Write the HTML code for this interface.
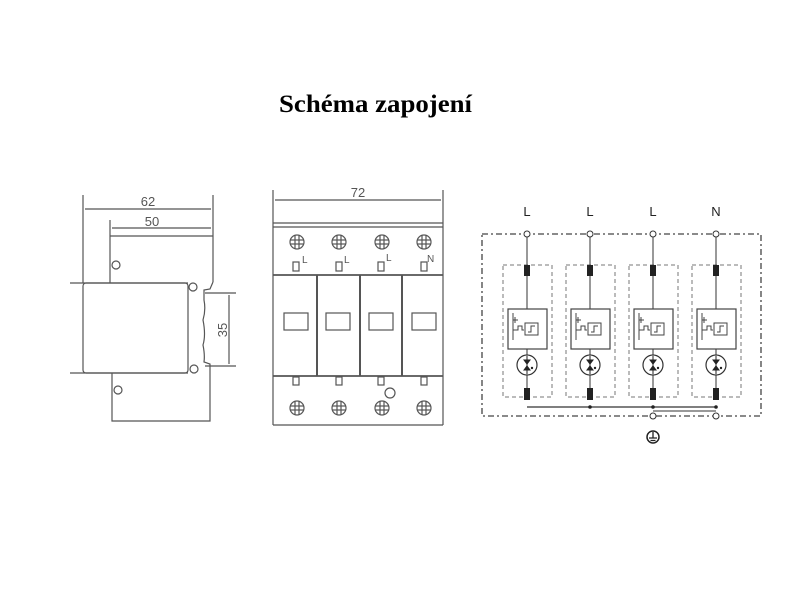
<!DOCTYPE html>
<html><head><meta charset="utf-8"><style>
html,body{margin:0;padding:0;background:#fff;}
svg{display:block;}
</style></head><body>
<svg width="800" height="600" viewBox="0 0 800 600" xmlns="http://www.w3.org/2000/svg">
<defs>
  <g id="sc"><circle r="7"/><line x1="-7" y1="-2" x2="7" y2="-2"/><line x1="-7" y1="2" x2="7" y2="2"/><line x1="-2" y1="-7" x2="-2" y2="7"/><line x1="2" y1="-7" x2="2" y2="7"/></g>
</defs>
<rect width="800" height="600" fill="#fff"/>
<text x="279" y="112" font-family="Liberation Serif, serif" font-weight="bold" font-size="25" textLength="193" lengthAdjust="spacingAndGlyphs" fill="#000">Schéma zapojení</text>

<!-- Side view -->
<g stroke="#555" stroke-width="1.2" fill="none">
  <line x1="83" y1="195" x2="83" y2="283"/>
  <line x1="213" y1="195" x2="213" y2="282"/>
  <line x1="85" y1="209" x2="211" y2="209"/>
  <line x1="110" y1="220" x2="110" y2="283"/>
  <line x1="112" y1="228" x2="211" y2="228"/>
  <line x1="110" y1="236" x2="213" y2="236"/>
  <line x1="70" y1="283" x2="188" y2="283"/>
  <rect x="83" y="283" width="105" height="90" rx="3"/>
  <line x1="70" y1="373" x2="188" y2="373"/>
  <path d="M213 282 L210 289 L204 290 L204 300 Q206 310 203 320 Q206 335 203 345 Q205 355 204 362 L210 364 L210 421 L112 421 L112 373"/>
  <line x1="205" y1="293" x2="236" y2="293"/>
  <line x1="205" y1="366" x2="236" y2="366"/>
  <line x1="229" y1="295" x2="229" y2="364"/>
  <circle cx="116" cy="265" r="4"/>
  <circle cx="193" cy="287" r="4"/>
  <circle cx="194" cy="369" r="4"/>
  <circle cx="118" cy="390" r="4"/>
</g>
<g fill="#555" font-family="Liberation Sans, sans-serif" font-size="13">
  <text x="148" y="206" text-anchor="middle">62</text>
  <text x="152" y="226" text-anchor="middle">50</text>
  <text x="227" y="330" text-anchor="middle" transform="rotate(-90 227 330)">35</text>
</g>

<!-- Front view -->
<g stroke="#555" stroke-width="1.2" fill="none">
  <line x1="273" y1="190" x2="273" y2="425"/>
  <line x1="443" y1="190" x2="443" y2="425"/>
  <line x1="275" y1="200" x2="441" y2="200"/>
  <line x1="273" y1="223" x2="443" y2="223"/>
  <line x1="273" y1="227" x2="443" y2="227"/>
  <line x1="273" y1="425" x2="443" y2="425"/>
  <line x1="273" y1="275" x2="443" y2="275" stroke-width="1.8"/>
  <line x1="273" y1="376" x2="443" y2="376" stroke-width="1.8"/>
  <line x1="317" y1="275" x2="317" y2="376" stroke-width="2"/>
  <line x1="360" y1="275" x2="360" y2="376" stroke-width="2"/>
  <line x1="402" y1="275" x2="402" y2="376" stroke-width="2"/>
  <rect x="284" y="313" width="24" height="17"/>
  <rect x="326" y="313" width="24" height="17"/>
  <rect x="369" y="313" width="24" height="17"/>
  <rect x="412" y="313" width="24" height="17"/>
  <use href="#sc" x="297" y="242"/><use href="#sc" x="339" y="242"/><use href="#sc" x="382" y="242"/><use href="#sc" x="424" y="242"/>
  <use href="#sc" x="297" y="408"/><use href="#sc" x="339" y="408"/><use href="#sc" x="382" y="408"/><use href="#sc" x="424" y="408"/>
  <rect x="293" y="262" width="6" height="9"/><rect x="336" y="262" width="6" height="9"/><rect x="378" y="262" width="6" height="9"/><rect x="421" y="262" width="6" height="9"/>
  <rect x="293" y="377" width="6" height="8"/><rect x="336" y="377" width="6" height="8"/><rect x="378" y="377" width="6" height="8"/><rect x="421" y="377" width="6" height="8"/>
  <circle cx="390" cy="393" r="5"/>
</g>
<g fill="#555" font-family="Liberation Sans, sans-serif" font-size="10">
  <text x="302" y="263">L</text><text x="344" y="263">L</text><text x="386" y="261">L</text><text x="427" y="262">N</text>
</g>
<text x="358" y="197" fill="#555" font-family="Liberation Sans, sans-serif" font-size="13" text-anchor="middle">72</text>

<!-- Schematic -->
<g fill="#222" font-family="Liberation Sans, sans-serif" font-size="13" text-anchor="middle">
  <text x="527" y="216">L</text><text x="590" y="216">L</text><text x="653" y="216">L</text><text x="716" y="216">N</text>
</g>
<rect x="482" y="234" width="279" height="182" fill="none" stroke="#444" stroke-width="1.3" stroke-dasharray="6,3,2,3"/>
<g id="col">
  <rect x="503" y="265" width="49" height="132" fill="none" stroke="#777" stroke-width="1" stroke-dasharray="4,3"/>
  <line x1="527" y1="237" x2="527" y2="309" stroke="#333" stroke-width="1"/>
  <rect x="524" y="265" width="6" height="11" fill="#222"/>
  <rect x="508" y="309" width="39" height="40" fill="#fff" stroke="#444" stroke-width="1.2"/>
  <path d="M513 313 V340 M513 320 H518 M515 317 V323 M513 330 H518 V326 H522 V330 H524" stroke="#444" fill="none"/>
  <rect x="525" y="323" width="13" height="12" fill="none" stroke="#444"/>
  <path d="M528 332 H531 V326 H535" stroke="#444" fill="none"/>
  <line x1="527" y1="349" x2="527" y2="388" stroke="#333"/>
  <circle cx="527" cy="365" r="10" fill="#fff" stroke="#333" stroke-width="1.2"/>
  <path d="M527 356 V374 M524 360 L527 364 L530 360 Z M524 370 L527 366 L530 370 Z" stroke="#222" fill="#222"/>
  <circle cx="532" cy="368" r="1.2" fill="#222"/>
  <rect x="524" y="388" width="6" height="12" fill="#222"/>
  <circle cx="527" cy="234" r="3" fill="#fff" stroke="#333"/>
</g>
<use href="#col" x="63"/><use href="#col" x="126"/><use href="#col" x="189"/>
<line x1="527" y1="407" x2="716" y2="407" stroke="#333" stroke-width="1.2"/>
<line x1="653" y1="411" x2="716" y2="411" stroke="#333" stroke-width="1"/>
<g fill="#222"><circle cx="590" cy="407" r="1.8"/><circle cx="653" cy="407" r="1.8"/><circle cx="716" cy="407" r="1.8"/></g>
<circle cx="653" cy="416" r="3" fill="#fff" stroke="#333"/>
<circle cx="716" cy="416" r="3" fill="#fff" stroke="#333"/>
<circle cx="653" cy="437" r="6" fill="none" stroke="#222" stroke-width="1.5"/>
<path d="M653 432 V438 M649 438 H657 M650.5 440.5 H655.5" stroke="#222" stroke-width="1.3"/>
</svg>
</body></html>
